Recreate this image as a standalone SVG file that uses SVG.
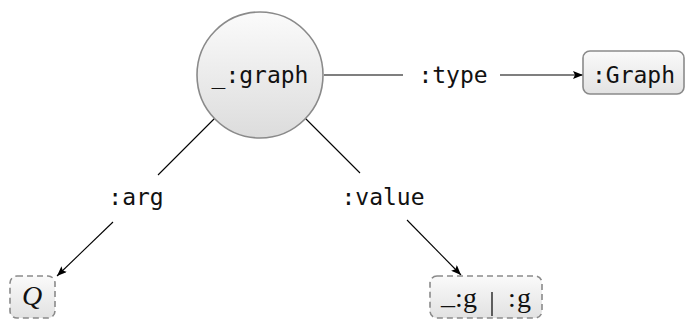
<svg xmlns="http://www.w3.org/2000/svg" width="687" height="323" viewBox="0 0 687 323">
  <defs>
    <linearGradient id="shade" x1="0" y1="0" x2="0" y2="1">
      <stop offset="0" stop-color="#fbfbfb"/>
      <stop offset="1" stop-color="#dcdcdc"/>
    </linearGradient>
    <linearGradient id="shadeBox" x1="0" y1="0" x2="0" y2="1">
      <stop offset="0" stop-color="#fafafa"/>
      <stop offset="1" stop-color="#e2e2e2"/>
    </linearGradient>
    <marker id="arrow" viewBox="0 0 10 8" refX="10" refY="4" markerWidth="10" markerHeight="8" markerUnits="userSpaceOnUse" orient="auto">
      <path d="M0,0 L10,4 L0,8 L2,4 Z" fill="#000"/>
    </marker>
  </defs>
  <style>
    .node { fill: url(#shade); stroke: #8a8a8a; stroke-width: 1.6; }
    .box { fill: url(#shadeBox); stroke: #8a8a8a; stroke-width: 1.6; }
    .dashed { stroke-dasharray: 6 4; }
    .edge { stroke: #000; stroke-width: 1.1; fill: none; }
    .tt { font-family: "DejaVu Sans Mono", "Liberation Mono", monospace; font-size: 23px; fill: #111; }
    .rm { font-family: "Liberation Serif", "DejaVu Serif", serif; font-size: 28px; fill: #111; }
    .math { font-family: "Liberation Serif", "DejaVu Serif", serif; font-style: italic; font-size: 28px; fill: #111; }
  </style>

  <!-- connectors, broken around their labels -->
  <g id="edges">
    <line class="edge" x1="324" y1="75" x2="403" y2="75"/>
    <line class="edge" x1="500" y1="75" x2="583" y2="75" marker-end="url(#arrow)"/>
    <text class="tt" x="453" y="83" text-anchor="middle">:type</text>

    <line class="edge" x1="215" y1="118" x2="158" y2="175"/>
    <line class="edge" x1="113" y1="222" x2="57" y2="276" marker-end="url(#arrow)"/>
    <text class="tt" x="136" y="205" text-anchor="middle">:arg</text>

    <line class="edge" x1="305" y1="118" x2="360" y2="173"/>
    <line class="edge" x1="407" y1="220" x2="461" y2="275" marker-end="url(#arrow)"/>
    <text class="tt" x="383" y="205" text-anchor="middle">:value</text>
  </g>

  <!-- blank node -->
  <g id="graph">
    <circle class="node" cx="260" cy="75" r="63"/>
    <text class="tt" x="260" y="83" text-anchor="middle">_:graph</text>
  </g>

  <!-- type node -->
  <g id="Graph">
    <rect class="box" x="583" y="51" width="101" height="43" rx="7"/>
    <text class="tt" x="633.5" y="83" text-anchor="middle">:Graph</text>
  </g>

  <!-- argument -->
  <g id="Q">
    <rect class="box dashed" x="10" y="276" width="45" height="42" rx="7"/>
    <text class="math" x="32" y="305" text-anchor="middle">Q</text>
  </g>

  <!-- value: blank node or IRI -->
  <g id="g">
    <rect class="box dashed" x="430" y="276" width="112" height="42" rx="7"/>
    <text class="rm" y="307"><tspan x="441" dy="-3">_</tspan><tspan x="455" dy="3">:</tspan><tspan x="463">g</tspan></text>
    <line x1="492" y1="292" x2="492" y2="316" stroke="#111" stroke-width="1.3"/>
    <text class="rm" y="307"><tspan x="508">:</tspan><tspan x="517">g</tspan></text>
  </g>
</svg>
